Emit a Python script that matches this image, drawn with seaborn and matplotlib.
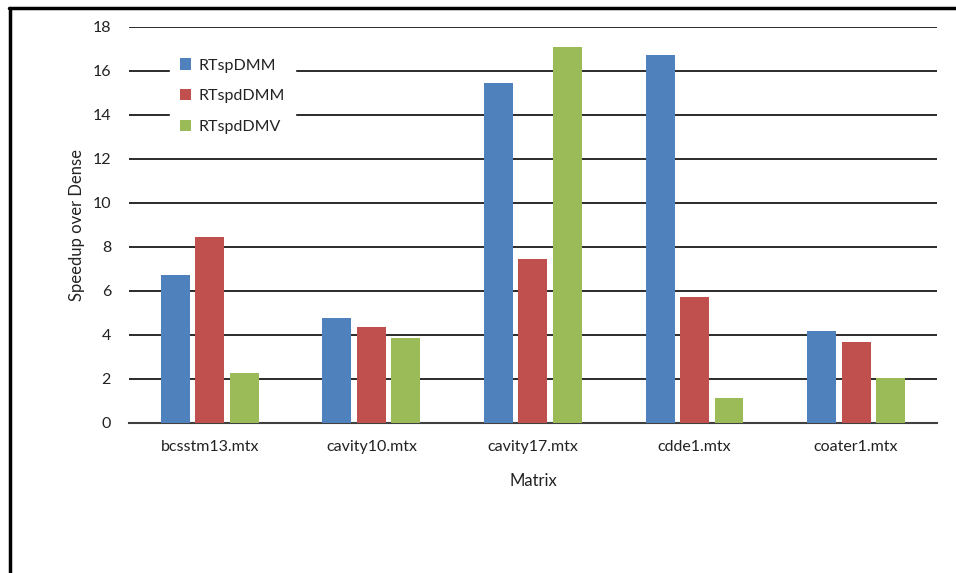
import pandas as pd
import matplotlib
matplotlib.use("Agg")
import matplotlib.pyplot as plt
import seaborn as sns
from matplotlib.lines import Line2D

matrices = ["bcsstm13.mtx", "cavity10.mtx", "cavity17.mtx", "cdde1.mtx", "coater1.mtx"]
series = ["RTspDMM", "RTspdDMM", "RTspdDMV"]
rtspdmm = [6.71, 4.79, 15.43, 16.71, 4.18]
rtspddmm = [8.45, 4.34, 7.43, 5.70, 3.68]
rtspddmv = [2.25, 3.84, 17.09, 1.12, 2.02]
colors = ["#4F81BD", "#C0504D", "#9BBB59"]

df = pd.DataFrame({
    "Matrix": matrices * 3,
    "Method": [series[0]] * 5 + [series[1]] * 5 + [series[2]] * 5,
    "Speedup": rtspdmm + rtspddmm + rtspddmv,
})

sns.set_style("white")
plt.rcParams["font.family"] = ["Lato", "DejaVu Sans"]

fig = plt.figure(figsize=(9.56, 5.73), dpi=100)
ax = fig.add_axes([0.135, 0.262, 0.845, 0.691])

sns.barplot(data=df, x="Matrix", y="Speedup", hue="Method", palette=colors,
            saturation=1, width=0.64, gap=0.16, ax=ax, errorbar=None,
            edgecolor="none", zorder=3)

ax.set_ylim(0, 18)
ax.set_yticks(range(0, 19, 2))
ax.yaxis.grid(True, color="#1a1a1a", linewidth=1.3, zorder=0)
ax.set_axisbelow(True)
for s in ["top", "right", "left"]:
    ax.spines[s].set_visible(False)
ax.spines["bottom"].set_color("#404040")
ax.spines["bottom"].set_linewidth(1.5)
ax.tick_params(length=0, labelsize=11.5, colors="#222222")
ax.tick_params(axis="x", pad=12)
ax.tick_params(axis="y", pad=13)
ax.set_xlabel("Matrix", fontsize=12, color="#222222", labelpad=14)
ax.set_ylabel("Speedup over Dense", fontsize=12, color="#222222", labelpad=5)

leg = ax.legend(loc="upper left", bbox_to_anchor=(0.041, 0.965), frameon=True,
                fontsize=11.5, handlelength=0.7, handleheight=0.7,
                handletextpad=0.5, labelspacing=1.05, borderpad=0.6)
leg.get_frame().set_facecolor("white")
leg.get_frame().set_edgecolor("white")
leg.get_frame().set_alpha(1)
for t in leg.get_texts():
    t.set_color("#222222")

# page border (top and left edges of the screenshot)
fig.add_artist(Line2D([0.009, 1.0], [0.986, 0.986], color="black", linewidth=2.5))
fig.add_artist(Line2D([0.010, 0.010], [0.0, 0.986], color="black", linewidth=2.5))

fig.savefig("out.png", dpi=100)
